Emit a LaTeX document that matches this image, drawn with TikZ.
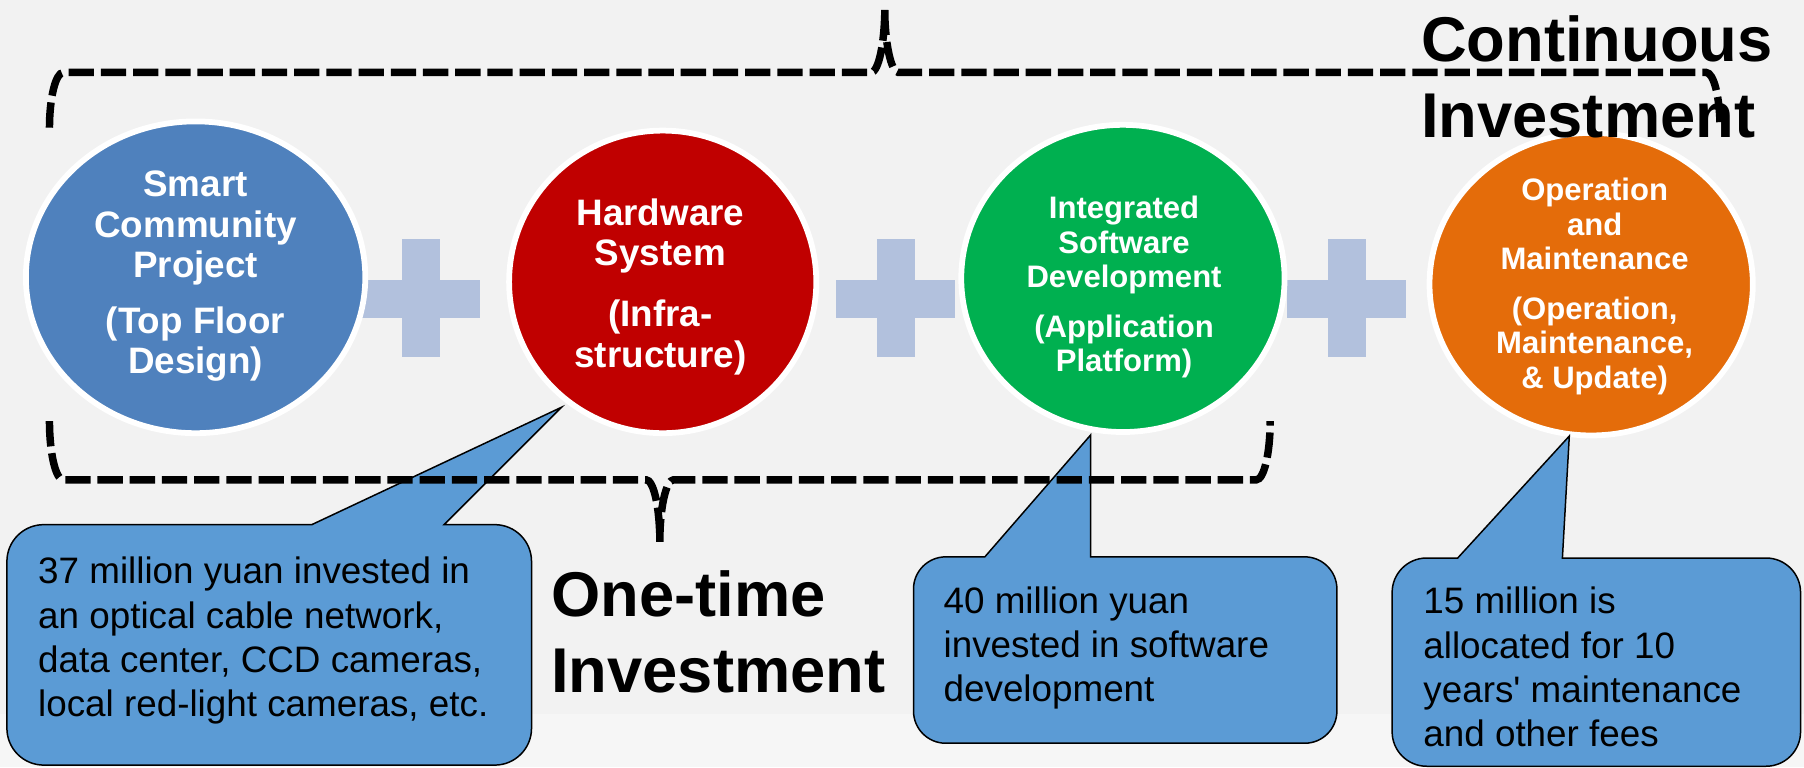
\documentclass[tikz,border=0pt]{standalone}
\usepackage{fontspec}
\setmainfont{Liberation Sans}
\newfontfamily\callfont{Liberation Sans}
\usetikzlibrary{shapes.geometric}
\definecolor{bg}{HTML}{F2F2F2}
\definecolor{band}{RGB}{246,246,246}
\definecolor{plusc}{RGB}{178,193,221}
\definecolor{cblue}{HTML}{4F81BD}
\definecolor{cred}{HTML}{C00000}
\definecolor{cgreen}{HTML}{00B050}
\definecolor{corange}{HTML}{E46C0A}
\definecolor{callc}{HTML}{5B9BD5}
\begin{document}
\begin{tikzpicture}[x=1pt,y=-1pt,
  bubble/.style={ellipse, draw=white, line width=5pt, inner sep=0pt},
  plusbar/.style={fill=plusc, draw=none},
  callout/.style={fill=callc, draw=black, line width=1.3pt},
  brace/.style={draw=black, line width=6.5pt, dash pattern=on 22pt off 6pt},
  bubtxt/.style={text=white, font=\bfseries\fontsize{32}{35}\selectfont, align=center, inner sep=0pt, anchor=base},
  bubtxts/.style={text=white, font=\bfseries\fontsize{27}{30}\selectfont, align=center, inner sep=0pt, anchor=base},
  calltxt/.style={font=\callfont\fontsize{32}{38.5}\selectfont, align=left, anchor=base west, inner sep=0pt},
  bigtxt/.style={font=\bfseries\fontsize{55}{66}\selectfont, align=left, anchor=base west, inner sep=0pt}]

% background
\fill[bg] (0,0) rectangle (1568,667);
\useasboundingbox (0,0) rectangle (1568,667);
\fill[band] (0,621) rectangle (1568,667);

% plus signs
\foreach \cx/\nm in {366/p1,779/p2,1171/p3}{
  \fill[plusbar] (\cx-52,243) rectangle (\cx+51,276);
  \fill[plusbar] (\cx-16.5,208) rectangle (\cx+16.5,310);
}

% ellipses
\node[bubble, fill=cblue, minimum width=295pt, minimum height=271pt] (e1) at (170,241) {};
\node[bubble, fill=cred, minimum width=267pt, minimum height=263pt] (e2) at (576,245) {};
\node[bubble, fill=cgreen, minimum width=281pt, minimum height=267pt] (e3) at (976,242) {};
\node[bubble, fill=corange, minimum width=281pt, minimum height=263pt] (e4) at (1383,247) {};

\node[bubtxt] (t1) at (170,325) {Smart\\Community\\Project\\[14pt](Top Floor\\Design)};
\node[bubtxt] (t2) at (574,319) {Hardware\\System\\[18pt](Infra-\\structure)};
\node[bubtxts] (t3) at (977,323) {Integrated\\Software\\Development\\[13pt](Application\\Platform)};
\node[bubtxts] (t4) at (1386,337.5) {Operation\\and\\Maintenance\\[13pt](Operation,\\Maintenance,\\\& Update)};

% callouts
\coordinate (tip1) at (488,354);
\coordinate (tip2) at (948,378);
\coordinate (tip3) at (1364,379);
\draw[callout] (6,560) [rounded corners=32pt] -- (6,456) [sharp corners] -- (271,456) -- (tip1) -- (386,456)
  [rounded corners=32pt] -- (462,456) -- (462,665) -- (6,665) -- cycle;
\draw[callout] (794,560) [rounded corners=28pt] -- (794,484) [sharp corners] -- (856,484) -- (tip2) -- (948,484)
  [rounded corners=28pt] -- (1162,484) -- (1162,646) -- (794,646) -- cycle;
\draw[callout] (1210,560) [rounded corners=30pt] -- (1210,485) [sharp corners] -- (1267,485) -- (tip3) -- (1358,485)
  [rounded corners=30pt] -- (1565,485) -- (1565,666) -- (1210,666) -- cycle;

\node[calltxt] (c1) at (33,623) {37 million yuan invested in\\an optical cable network,\\data center, CCD cameras,\\local red-light cameras, etc.};
\node[calltxt] (c2) at (820,610) {40 million yuan\\invested in software\\development};
\node[calltxt] (c3) at (1237,649) {15 million is\\allocated for 10\\years' maintenance\\and other fees};

% big labels
\node[bigtxt] (ot) at (479,602) {One-time\\Investment};
\node[bigtxt] (ci) at (1235,119.5) {Continuous\\Investment};

% braces
\draw[brace] (43,111) .. controls (43,85) and (48.4,63) .. (55,63) -- (757,63)
  .. controls (763.6,63) and (769,37) .. (769,8)
  .. controls (769,37) and (774.4,63) .. (781,63) -- (1483,63)
  .. controls (1489.6,63) and (1495,85) .. (1495,111);
\draw[brace] (43,366) .. controls (43,394) and (48.4,417) .. (55,417) -- (561.5,417)
  .. controls (568.1,417) and (573.5,441) .. (573.5,471)
  .. controls (573.5,441) and (578.9,417) .. (585.5,417) -- (1092,417)
  .. controls (1098.6,417) and (1104,394) .. (1104,366);
\end{tikzpicture}
\end{document}
